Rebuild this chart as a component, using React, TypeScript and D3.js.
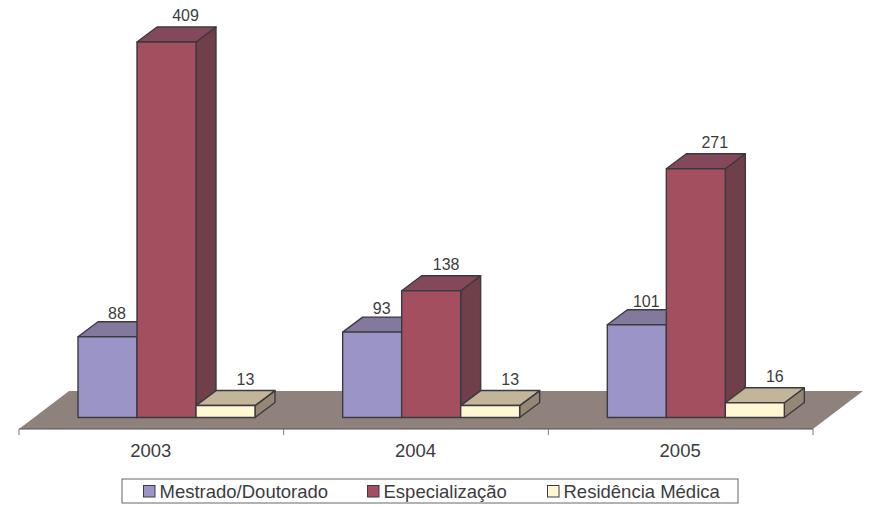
import React from "react";
import * as d3 from "d3";

const years = ["2003", "2004", "2005"];
const seriesNames = ["Mestrado/Doutorado", "Especialização", "Residência Médica"];
const mestrado = [88, 93, 101];
const especializacao = [409, 138, 271];
const residencia = [13, 13, 16];
const seriesValues = [mestrado, especializacao, residencia];
const fronts = ["#9b95c7", "#a34f60", "#fff8d3"];
const tops = ["#83799d", "#83485a", "#c2b59a"];
const sides = ["#6a6180", "#6f3f4a", "#948775"];
const legendX = [143.5, 367.5, 547.5];

const LEFT = 19, RIGHT = 813, FLOOR_Y = 429, BASE_Y = 417.5;
const DX = 20, DY = 15, FLOOR_DX = 50, FLOOR_DY = 38;
const INK = "#3b3a40", TEXT = "#3c3c3e";
const FONT = "'Liberation Sans', Arial, sans-serif";

const x0 = d3.scaleBand<string>().domain(years).range([LEFT, RIGHT]);
const y = d3.scaleLinear().domain([0, 409]).range([BASE_Y, 42]);
const barW = 59;
const x1 = d3.scaleBand<number>().domain([0, 1, 2]).range([0, barW * 3]);

const poly = (pts: [number, number][]) => d3.line()(pts) + "Z";
const labelShift = (s: number, v: number) => (s === 0 ? -10.5 : s === 1 ? (v < 200 ? -5 : -1) : 0);
const labelLift = (s: number) => (s === 0 ? 3 : 6);

export default function App() {
  const ticks = [...years.map((c) => x0(c)!), RIGHT];
  const bars = years.flatMap((yr, i) =>
    seriesValues.map((vals, s) => ({ i, s, yr, v: vals[i], x: x0(yr)! + barW + x1(s)!, top: y(vals[i]) }))
  );
  return (
    <svg width={872} height={507} style={{ position: "absolute", left: 0, top: 0, background: "#fff" }} fontFamily={FONT}>
      <path
        d={poly([[LEFT, FLOOR_Y], [RIGHT, FLOOR_Y], [RIGHT + FLOOR_DX, FLOOR_Y - FLOOR_DY], [LEFT + FLOOR_DX, FLOOR_Y - FLOOR_DY]])}
        fill="#8f827c"
      />
      <line x1={LEFT} x2={RIGHT} y1={FLOOR_Y} y2={FLOOR_Y} stroke="#55504f" strokeWidth={1.2} />
      {ticks.map((t) => (
        <line key={t} x1={t} x2={t} y1={FLOOR_Y} y2={FLOOR_Y + 6} stroke="#777" strokeWidth={1} />
      ))}
      {bars.map((b) => (
        <g key={b.yr + b.s} stroke={INK} strokeWidth={1.4} strokeLinejoin="round">
          <path
            d={poly([[b.x + barW, b.top], [b.x + barW + DX, b.top - DY], [b.x + barW + DX, BASE_Y - DY], [b.x + barW, BASE_Y]])}
            fill={sides[b.s]}
          />
          <path
            d={poly([[b.x, b.top], [b.x + DX, b.top - DY], [b.x + barW + DX, b.top - DY], [b.x + barW, b.top]])}
            fill={tops[b.s]}
          />
          <rect x={b.x} y={b.top} width={barW} height={BASE_Y - b.top} fill={fronts[b.s]} />
        </g>
      ))}
      {bars.map((b) => (
        <text key={"l" + b.yr + b.s} x={b.x + barW / 2 + DX + labelShift(b.s, b.v)} y={b.top - DY - labelLift(b.s)} textAnchor="middle" fontSize={16} fill={TEXT}>
          {b.v}
        </text>
      ))}
      {years.map((yr) => (
        <text key={yr} x={x0(yr)! + x0.bandwidth() / 2 - 0.5} y={457} textAnchor="middle" fontSize={18.5} fill={TEXT}>
          {yr}
        </text>
      ))}
      <rect x={122} y={479} width={616} height={24} fill="#fff" stroke="#666" strokeWidth={1} />
      {seriesNames.map((n, i) => (
        <g key={n}>
          <rect x={legendX[i]} y={485.5} width={11.5} height={11.5} fill={fronts[i]} stroke={INK} strokeWidth={1} />
          <text x={legendX[i] + 16} y={498} fontSize={18.5} fill={TEXT}>
            {n}
          </text>
        </g>
      ))}
    </svg>
  );
}
